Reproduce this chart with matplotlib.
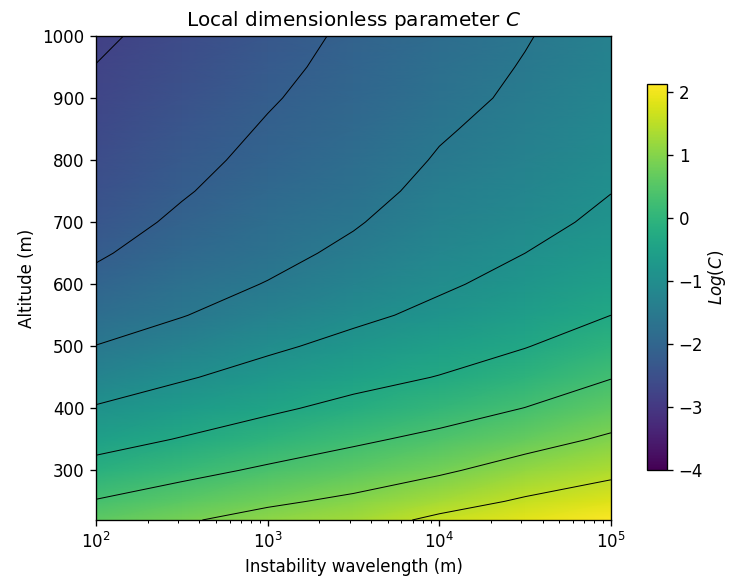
import numpy as np
import matplotlib
matplotlib.use("Agg")
import matplotlib.pyplot as plt

# Instability wavelengths (m), half-decade steps
wavelength = [100, 316, 1000, 3162, 10000, 31623, 100000]

# Altitudes (m)
altitude = [220, 250, 300, 350, 400, 450, 500, 550, 600,
            650, 700, 750, 800, 850, 900, 950, 1000]

# Log(C), one row per altitude (bottom to top)
log_c = [
    [0.60, 0.84, 1.09, 1.28, 1.63, 1.88, 2.13],
    [0.32, 0.57, 0.81, 1.01, 1.30, 1.59, 1.84],
    [-0.12, 0.13, 0.37, 0.58, 0.82, 1.13, 1.38],
    [-0.53, -0.29, -0.04, 0.20, 0.42, 0.69, 0.98],
    [-0.90, -0.65, -0.41, -0.17, 0.05, 0.30, 0.60],
    [-1.24, -0.99, -0.74, -0.50, -0.30, -0.04, 0.27],
    [-1.54, -1.29, -1.03, -0.79, -0.57, -0.34, -0.04],
    [-1.81, -1.57, -1.30, -1.05, -0.82, -0.58, -0.32],
    [-2.03, -1.74, -1.53, -1.27, -1.01, -0.78, -0.53],
    [-2.22, -1.92, -1.69, -1.45, -1.16, -0.94, -0.70],
    [-2.36, -2.08, -1.82, -1.59, -1.30, -1.08, -0.84],
    [-2.47, -2.20, -1.94, -1.72, -1.41, -1.19, -0.95],
    [-2.57, -2.29, -2.04, -1.82, -1.51, -1.30, -1.04],
    [-2.65, -2.37, -2.12, -1.90, -1.60, -1.38, -1.12],
    [-2.71, -2.45, -2.20, -1.97, -1.70, -1.46, -1.19],
    [-2.76, -2.53, -2.27, -2.03, -1.77, -1.52, -1.25],
    [-2.85, -2.60, -2.34, -2.08, -1.83, -1.58, -1.30],
]

# Contour levels drawn as black lines
contour_levels = [-2.77, -2.16, -1.55, -0.94, -0.32, 0.29, 0.90, 1.52]

# work in log10 of the wavelength so the contouring is done in log space
X, Y = np.meshgrid(np.log10(wavelength), altitude)
Z = np.array(log_c)

fig = plt.figure(figsize=(729 / 120, 579 / 120), dpi=120)
ax = fig.add_axes([0.1317, 0.1019, 0.7063, 0.8359])

mesh = ax.pcolormesh(X, Y, Z, shading="gouraud", cmap="viridis", vmin=-4, vmax=2.13)
ax.contour(X, Y, Z, levels=contour_levels, colors="black",
           linewidths=0.6, linestyles="solid")

ax.set_xlim(2, 5)
ax.set_ylim(220, 1000)
ax.set_xticks([2, 3, 4, 5])
ax.set_xticklabels(["$10^{2}$", "$10^{3}$", "$10^{4}$", "$10^{5}$"])
minor = [np.log10(k * 10.0 ** d) for d in (2, 3, 4) for k in range(2, 10)]
ax.set_xticks(minor, minor=True)
ax.set_yticks(range(300, 1001, 100))
ax.set_xlabel("Instability wavelength (m)")
ax.set_ylabel("Altitude (m)")
ax.set_title("Local dimensionless parameter $C$")

cax = fig.add_axes([0.8875, 0.1883, 0.0274, 0.6667])
cbar = fig.colorbar(mesh, cax=cax)
cbar.set_ticks([-4, -3, -2, -1, 0, 1, 2])
cbar.set_label("$Log(C)$", labelpad=2)

fig.savefig("out.png", dpi=120)
